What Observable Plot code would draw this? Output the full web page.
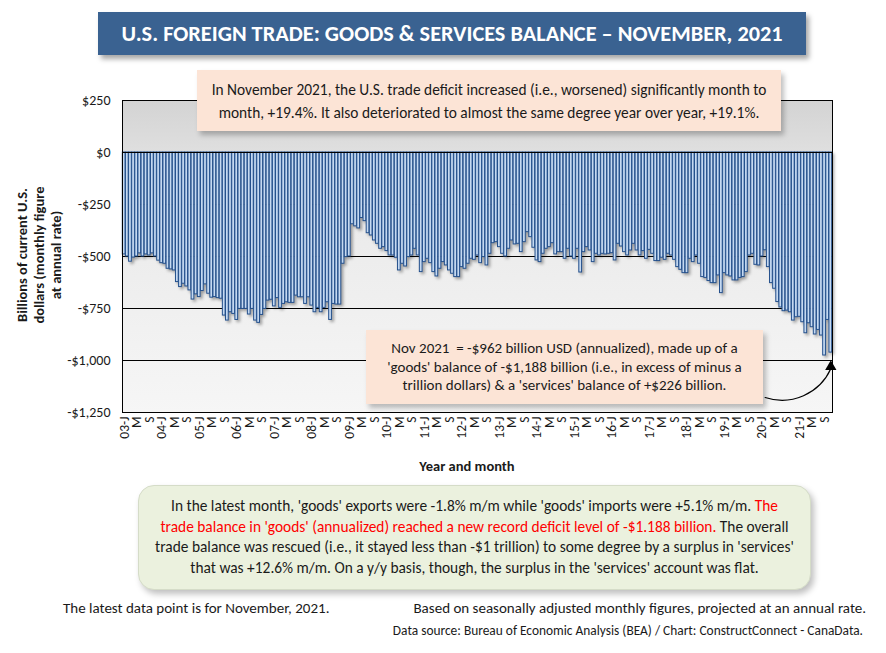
<!DOCTYPE html>
<html>
<head>
<meta charset="utf-8">
<script src="https://cdn.jsdelivr.net/npm/d3@7"></script>
<script src="https://cdn.jsdelivr.net/npm/@observablehq/plot@0.6"></script>
<style>
  html, body { margin: 0; padding: 0; background: #fff; }
  #wrap { position: relative; width: 886px; height: 653px; overflow: hidden; background: #fff;
          font-family: Carlito, Calibri, Lato, "Open Sans", sans-serif; color: #1a1a1a; }
  #chart { position: absolute; left: 0; top: 0; }
  .box { position: absolute; box-sizing: border-box; text-align: center; white-space: nowrap; }
  #title { left: 98px; top: 12px; width: 708px; height: 43px; background: #3a6291; color: #fff;
           font-weight: bold; font-size: 22.3px; line-height: 43px; box-shadow: 3px 4px 5px rgba(0,0,0,0.35); }
  #note1 { left: 197px; top: 70px; width: 584px; height: 61px; background: #fce4d6; font-size: 15.4px;
           line-height: 23px; padding-top: 8px; box-shadow: 3px 4px 5px rgba(0,0,0,0.25); }
  #note2 { left: 366px; top: 330px; width: 397px; height: 74px; background: #fce4d6; font-size: 15px;
           line-height: 18.5px; padding-top: 9px; box-shadow: 3px 4px 5px rgba(0,0,0,0.25); }
  #note3 { left: 138px; top: 485px; width: 673px; height: 105px; background: #ebf1de; font-size: 15.4px;
           line-height: 20.5px; padding-top: 10px; border-radius: 16px; border: 1px solid #d5dcc8;
           box-shadow: 3px 4px 6px rgba(0,0,0,0.25); }
  .red { color: #ff0000; }
  #ylabel { position: absolute; left: 39px; top: 255px; width: 240px; transform: translate(-50%, -50%) rotate(-90deg);
            text-align: center; font-weight: bold; font-size: 14.5px; line-height: 17px; }
  #xlabel { position: absolute; left: 467px; top: 457px; transform: translateX(-50%); font-weight: bold; font-size: 14.5px; }
  .foot { position: absolute; white-space: nowrap; }
</style>
</head>
<body>
<div id="wrap">
  <div id="chart"></div>
  <div id="title" class="box">U.S. FOREIGN TRADE: GOODS &amp; SERVICES BALANCE – NOVEMBER, 2021</div>
  <div id="note1" class="box">In November 2021, the U.S. trade deficit increased (i.e., worsened) significantly month to<br>month, +19.4%. It also deteriorated to almost the same degree year over year, +19.1%.</div>
  <div id="note2" class="box">Nov 2021&nbsp; = -$962 billion USD (annualized), made up of a<br>'goods' balance of -$1,188 billion (i.e., in excess of minus a<br>trillion dollars) &amp; a 'services' balance of +$226 billion.</div>
  <div id="note3" class="box">In the latest month, 'goods' exports were -1.8% m/m while 'goods' imports were +5.1% m/m. <span class="red">The</span><br><span class="red">trade balance in 'goods' (annualized) reached a new record deficit level of -$1.188 billion.</span> The overall<br>trade balance was rescued (i.e., it stayed less than -$1 trillion) to some degree by a surplus in 'services'<br>that was +12.6% m/m. On a y/y basis, though, the surplus in the 'services' account was flat.</div>
  <div id="ylabel">Billions of current U.S.<br>dollars (monthly figure<br>at annual rate)</div>
  <div id="xlabel">Year and month</div>
  <div class="foot" style="left:63px; top:599px; font-size:15px;">The latest data point is for November, 2021.</div>
  <div class="foot" style="right:20px; top:599px; font-size:15px;">Based on seasonally adjusted monthly figures, projected at an annual rate.</div>
  <div class="foot" style="right:23px; top:622px; font-size:13.4px;">Data source: Bureau of Economic Analysis (BEA) / Chart: ConstructConnect - CanaData.</div>
</div>
<script>
// Monthly U.S. goods & services trade balance, billions of dollars at annual rate
const b2003 = [-490, -500, -525, -505, -500, -485, -500, -490, -495, -485, -500, -520];
const b2004 = [-532, -535, -559, -562, -567, -623, -647, -631, -644, -663, -707, -682];
const b2005 = [-695, -666, -634, -679, -698, -695, -700, -703, -784, -808, -768, -776];
const b2006 = [-805, -752, -752, -752, -779, -752, -808, -819, -781, -752, -712, -708];
const b2007 = [-740, -700, -747, -728, -720, -723, -723, -688, -696, -696, -728, -696];
const b2008 = [-736, -768, -747, -768, -747, -720, -805, -728, -731, -731, -535, -503];
const b2009 = [-500, -345, -355, -365, -315, -330, -388, -399, -423, -439, -463, -455];
const b2010 = [-474, -495, -495, -506, -567, -535, -548, -503, -495, -463, -495, -575];
const b2011 = [-527, -511, -532, -575, -596, -559, -527, -543, -567, -583, -599, -599];
const b2012 = [-551, -559, -535, -511, -516, -495, -532, -503, -543, -487, -436, -431];
const b2013 = [-455, -487, -500, -463, -423, -442, -439, -479, -431, -383, -407, -458];
const b2014 = [-519, -527, -487, -463, -455, -436, -490, -479, -479, -511, -463, -500];
const b2015 = [-511, -463, -577, -479, -455, -471, -527, -487, -495, -487, -490, -487];
const b2016 = [-484, -519, -439, -452, -479, -495, -471, -439, -471, -495, -474, -511];
const b2017 = [-468, -487, -522, -522, -506, -516, -487, -495, -516, -551, -564, -580];
const b2018 = [-580, -511, -527, -495, -535, -599, -603, -618, -628, -628, -591, -676];
const b2019 = [-580, -591, -596, -615, -615, -603, -599, -575, -495, -487, -540, -543];
const b2020 = [-500, -470, -551, -628, -655, -719, -745, -763, -760, -768, -808, -792];
const b2021 = [-790, -816, -869, -821, -840, -875, -853, -880, -976, -805, -962];

const years = [2003, 2004, 2005, 2006, 2007, 2008, 2009, 2010, 2011, 2012, 2013, 2014, 2015, 2016, 2017, 2018, 2019, 2020, 2021];
const yearSeries = [b2003, b2004, b2005, b2006, b2007, b2008, b2009, b2010, b2011, b2012, b2013, b2014, b2015, b2016, b2017, b2018, b2019, b2020, b2021];
const monthLetters = ["J", "F", "M", "A", "M", "J", "J", "A", "S", "O", "N", "D"];
const labelledMonths = [0, 4, 8];           // J, M, S
const yTicks = [250, 0, -250, -500, -750, -1000, -1250];

// annotation anchors (data space): arrow from callout edge to below the latest bar
const arrowHeadValue = -1030;
const arrowTipValue = -1040;
const arrowStartValue = -1178;

const data = [];
years.forEach((yr, yi) => {
  yearSeries[yi].forEach((v, m) => {
    data.push({key: `${yr}-${String(m + 1).padStart(2, "0")}`, year: yr, month: m, value: v});
  });
});
const keys = data.map(d => d.key);
const labelMap = new Map(data.map(d => [d.key,
  d.month === 0 ? `${String(d.year).slice(2)}-J` : monthLetters[d.month]]));
const tickKeys = data.filter(d => labelledMonths.includes(d.month)).map(d => d.key);

const money = v => (v < 0 ? "-" : "") + "$" + d3.format(",")(Math.abs(v));
const lastKey = keys[keys.length - 1];
const arrowStartKey = keys[keys.length - 22];

const chart = Plot.plot({
  width: 886,
  height: 480,
  marginTop: 100,
  marginBottom: 68,
  marginLeft: 122,
  marginRight: 54,
  style: {fontFamily: 'Carlito, Calibri, Lato, "Open Sans", sans-serif', fontSize: "14px", color: "#1a1a1a", background: "transparent"},
  x: {type: "band", domain: keys, paddingInner: 0.12, paddingOuter: 0.1, round: false},
  y: {domain: [-1250, 250], ticks: yTicks},
  marks: [
    Plot.frame({fill: "url(#plotBg)"}),
    Plot.gridY(yTicks, {stroke: "#000", strokeOpacity: 1, strokeWidth: 1}),
    Plot.barY(data, {x: "key", y: "value", fill: "#c5d9f1", stroke: "#24508c", strokeWidth: 1}),
    Plot.ruleY([0], {stroke: "#000"}),
    Plot.frame({stroke: "#000", strokeWidth: 1}),
    Plot.axisY({ticks: yTicks, tickFormat: money, tickSize: 0, tickPadding: 12, label: null}),
    Plot.axisX({ticks: tickKeys, tickFormat: k => labelMap.get(k), tickRotate: -90, tickSize: 0, tickPadding: 4, label: null, fontSize: "13.5px"}),
    Plot.arrow([{}], {x1: () => arrowStartKey, y1: () => arrowStartValue, x2: () => lastKey, y2: () => arrowTipValue,
                      bend: -42, stroke: "#000", strokeWidth: 1.2, headLength: 0}),
    Plot.dot([{}], {x: () => lastKey, y: () => arrowHeadValue, symbol: "triangle", r: 4.2, fill: "#000", stroke: "none"})
  ]
});

document.getElementById("chart").appendChild(chart);
const svg = d3.select(chart);
svg.insert("defs", ":first-child").html(
  `<linearGradient id="plotBg" x1="0" y1="0" x2="0" y2="1">
     <stop offset="0" stop-color="#d3d3d3"/>
     <stop offset="0.3" stop-color="#e9e9e9"/>
     <stop offset="1" stop-color="#f6f6f6"/>
   </linearGradient>`);
svg.selectAll('g[aria-label="bar"]').style("filter", "drop-shadow(2px 2px 1.5px rgba(0,0,0,0.35))");
</script>
</body>
</html>
